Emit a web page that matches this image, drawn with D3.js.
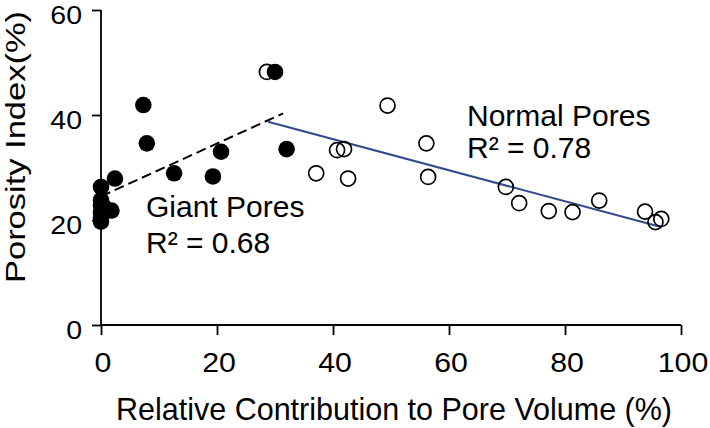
<!DOCTYPE html>
<html>
<head>
<meta charset="utf-8">
<script src="https://cdn.jsdelivr.net/npm/d3@7"></script>
<style>
  html, body { margin: 0; padding: 0; background: #fff; }
  svg { display: block; }
  text { font-family: "Liberation Sans", Arial, sans-serif; fill: #000; }
</style>
</head>
<body>
<svg id="chart" width="710" height="428"></svg>
<script>
// ---- data ----
const xTicks = [0, 20, 40, 60, 80, 100];
const yTicks = [0, 20, 40, 60];
const xTitle = "Relative Contribution to Pore Volume (%)";
const yTitle = "Porosity Index(%)";

// Giant pores (filled circles)
const giantX = [0, 0, 0, 0, 0, 0, 0.5, 1.8, 2.4, 7.3, 7.9, 12.6, 19.3, 20.7, 30.0, 32.0];
const giantY = [26.3, 23.8, 22.8, 21.5, 20.5, 19.7, 22.5, 21.8, 27.9, 41.9, 34.6, 28.9, 28.3, 33.0, 48.2, 33.5];

// Normal pores (open circles)
const normalX = [28.6, 37.1, 40.7, 41.9, 42.6, 49.4, 56.1, 56.4, 69.8, 72.1, 77.2, 81.3, 85.9, 93.8, 95.6, 96.6];
const normalY = [48.2, 28.9, 33.3, 33.5, 27.9, 41.8, 34.6, 28.2, 26.3, 23.2, 21.7, 21.5, 23.7, 21.6, 19.6, 20.2];

// Fitted trend lines (end points)
const giantFitX = [0, 31.4];
const giantFitY = [24.5, 40.3];
const normalFitX = [28.8, 96.4];
const normalFitY = [38.7, 18.7];

const giantLabel = ["Giant Pores", "R² = 0.68"];
const normalLabel = ["Normal Pores", "R² = 0.78"];

// ---- drawing ----
const svg = d3.select("#chart");
const x = d3.scaleLinear().domain([0, 100]).range([101, 681]);
const y = d3.scaleLinear().domain([0, 60]).range([325, 10]);

function txt(str, tx, ty, size, anchor, sx, rot) {
  svg.append("text")
    .attr("transform", `translate(${tx},${ty}) rotate(${rot || 0}) scale(${sx || 1},1)`)
    .attr("text-anchor", anchor)
    .style("font-size", size + "px")
    .text(str);
}

const axisColor = "#000";
// y axis
const yAxis = svg.append("g").attr("transform", "translate(101,0)")
  .call(d3.axisLeft(y).tickValues(yTicks).tickSize(9).tickFormat(""));
// x axis
const xAxis = svg.append("g").attr("transform", "translate(0,325)")
  .call(d3.axisBottom(x).tickValues(xTicks).tickSize(10).tickFormat(""));
[yAxis, xAxis].forEach(g => {
  g.select(".domain").attr("stroke", axisColor).attr("stroke-width", 1.8);
  g.selectAll(".tick line").attr("stroke", axisColor).attr("stroke-width", 1.8);
});
xAxis.select(".domain").attr("d", `M${x(0)},0H${x(100)}`);
yAxis.select(".domain").attr("d", `M0,${y(60)}V${y(0)}`);

// tick labels
yTicks.forEach(v => txt(String(v), 82, y(v) + 13.5, 25, "end", 1.14));
xTicks.forEach(v => txt(String(v), x(v) + 2, 372, 28, "middle", 1.08));

// axis titles
txt(xTitle, 394, 420, 30.5, "middle", 1.0);
txt(yTitle, 25, 147, 28.5, "middle", 1.21, -90);

// trend lines
const line = d3.line().x(d => x(d[0])).y(d => y(d[1]));
svg.append("path")
  .datum(giantFitX.map((v, i) => [v, giantFitY[i]]))
  .attr("d", line).attr("fill", "none").attr("stroke", "#000")
  .attr("stroke-width", 2).attr("stroke-dasharray", "10,5");
svg.append("path")
  .datum(normalFitX.map((v, i) => [v, normalFitY[i]]))
  .attr("d", line).attr("fill", "none").attr("stroke", "#2f4b8c")
  .attr("stroke-width", 2);

// open circles
svg.append("g").selectAll("circle")
  .data(normalX.map((v, i) => [v, normalY[i]]))
  .join("circle")
  .attr("cx", d => x(d[0])).attr("cy", d => y(d[1])).attr("r", 7.5)
  .attr("fill", "none").attr("stroke", "#000").attr("stroke-width", 1.7);

// filled circles
svg.append("g").selectAll("circle")
  .data(giantX.map((v, i) => [v, giantY[i]]))
  .join("circle")
  .attr("cx", d => x(d[0])).attr("cy", d => y(d[1])).attr("r", 8.3)
  .attr("fill", "#000");

// annotations
txt(giantLabel[0], 146, 217, 30, "start", 1.0);
txt(giantLabel[1], 146, 253, 30, "start", 1.0);
txt(normalLabel[0], 467, 126, 30, "start", 1.0);
txt(normalLabel[1], 467, 158, 30, "start", 1.0);
</script>
</body>
</html>
